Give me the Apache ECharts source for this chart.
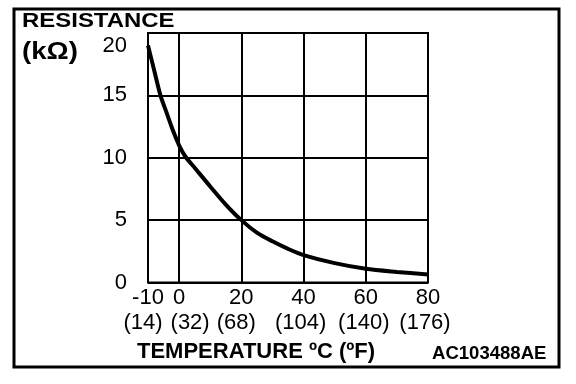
<!DOCTYPE html>
<html>
<head>
<meta charset="utf-8">
<script src="https://cdn.jsdelivr.net/npm/echarts@6/dist/echarts.min.js"></script>
<style>
  html, body { margin: 0; padding: 0; background: #fff; }
  #chart { width: 576px; height: 384px; }
</style>
</head>
<body>
<div id="chart"></div>
<script>
// Data
const temperatureC = [-10, -8, -6, -4, -2, 0, 2, 5, 10, 15, 20, 25, 30, 35, 40, 50, 60, 70, 80];
const resistanceK  = [19.0, 17.0, 15.0, 13.6, 12.2, 11.0, 10.1, 9.2, 7.7, 6.25, 5.0, 4.0, 3.3, 2.7, 2.2, 1.55, 1.1, 0.85, 0.65];
const xTickValues  = [-10, 0, 20, 40, 60, 80];
const xTickFahr    = ['(14)', '(32)', '(68)', '(104)', '(140)', '(176)'];
const xGridValues  = [0, 20, 40, 60];

// layout only: horizontal nudge (px) of each Fahrenheit label from its tick
const fahrShift = [-5, 11, -5, -3, -2, -3];

const FONT = "'Liberation Sans', Arial, Helvetica, sans-serif";
const chart = echarts.init(document.getElementById('chart'), null, { renderer: 'canvas' });

const baseGraphic = [
  { id: 'frame', type: 'rect', shape: { x: 14, y: 9, width: 545, height: 358 },
    style: { fill: 'none', stroke: '#000', lineWidth: 3 }, silent: true },
  { id: 't1', type: 'text', x: 22, y: 21.5, scaleX: 1.14,
    style: { text: 'RESISTANCE', font: 'bold 21px ' + FONT, fill: '#000', verticalAlign: 'middle' } },
  { id: 't2', type: 'text', x: 22, y: 53, scaleX: 1.2,
    style: { text: '(kΩ)', font: 'bold 23px ' + FONT, fill: '#000', verticalAlign: 'middle' } },
  { id: 't3', type: 'text', x: 137, y: 351.5,
    style: { text: 'TEMPERATURE ºC (ºF)', font: 'bold 22px ' + FONT, fill: '#000', verticalAlign: 'middle' } },
  { id: 't4', type: 'text', x: 432, y: 354, scaleX: 1.03,
    style: { text: 'AC103488AE', font: 'bold 18px ' + FONT, fill: '#000', verticalAlign: 'middle' } }
];

const option = {
  animation: false,
  backgroundColor: '#fff',
  grid: {
    left: 148, right: 148, top: 33, bottom: 101.5,
    show: true, borderColor: '#000', borderWidth: 2, backgroundColor: 'transparent'
  },
  xAxis: {
    type: 'value',
    min: -10, max: 80, interval: 10,
    axisLine: { show: false },
    axisTick: { show: false },
    splitLine: { show: false },
    axisLabel: {
      customValues: xTickValues,
      showMinLabel: true,
      showMaxLabel: true,
      hideOverlap: false,
      margin: 4,
      color: '#000',
      fontFamily: FONT,
      fontSize: 22,
      formatter: function (v) {
        return xTickValues.indexOf(v) < 0 ? '' : String(v);
      }
    }
  },
  yAxis: {
    type: 'value',
    min: 0, max: 20, interval: 5,
    axisLine: { show: false },
    axisTick: { show: false },
    splitLine: { show: true, lineStyle: { color: '#000', width: 2 } },
    axisLabel: {
      margin: 21,
      color: '#000',
      fontFamily: FONT,
      fontSize: 22,
      lineHeight: 26,
      showMinLabel: true,
      showMaxLabel: true,
      formatter: function (v) {
        return v === 20 ? '\n' + v : String(v);
      }
    }
  },
  series: [{
    type: 'line',
    data: temperatureC.map((t, i) => [t, resistanceK[i]]),
    smooth: 0.3,
    showSymbol: false,
    lineStyle: { color: '#000', width: 4 },
    markLine: {
      silent: true,
      symbol: 'none',
      label: { show: false },
      lineStyle: { color: '#000', width: 2, type: 'solid' },
      data: xGridValues.map(v => ({ xAxis: v }))
    },
    z: 3
  }],
  graphic: baseGraphic
};
chart.setOption(option);

// Fahrenheit row, positioned through the x axis scale
const yRow = chart.convertToPixel({ yAxisIndex: 0 }, 0) + 40;
const fahrGraphic = xTickValues.map((v, i) => ({
  id: 'f' + i,
  type: 'text',
  x: chart.convertToPixel({ xAxisIndex: 0 }, v) + fahrShift[i],
  y: yRow,
  style: {
    text: xTickFahr[i], font: '22px ' + FONT, fill: '#000',
    align: 'center', verticalAlign: 'middle'
  }
}));
chart.setOption({ graphic: baseGraphic.concat(fahrGraphic) });
</script>
</body>
</html>
